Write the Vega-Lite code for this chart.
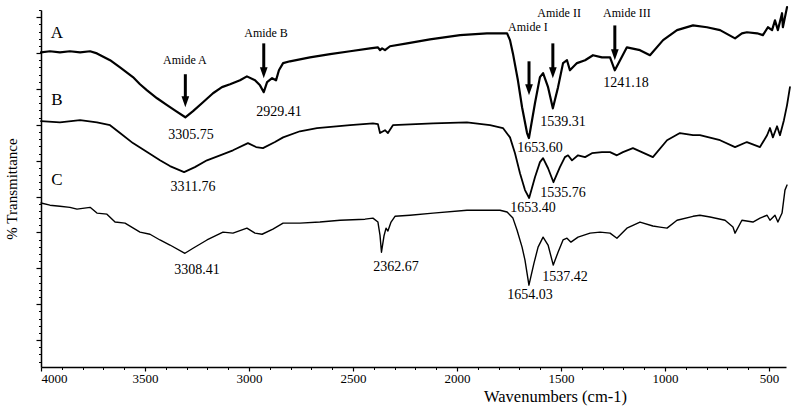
{
  "$schema": "https://vega.github.io/schema/vega-lite/v6.json",
  "width": 745,
  "height": 357,
  "autosize": {"type": "none"},
  "padding": {"left": 41, "top": 10, "right": 11, "bottom": 48},
  "background": "white",
  "config": {
    "view": {"stroke": null},
    "font": "Liberation Serif",
    "text": {"font": "Liberation Serif", "color": "black"},
    "axis": {"grid": false, "domainColor": "black", "tickColor": "black", "labelColor": "black", "titleColor": "black", "labelFont": "Liberation Serif", "titleFont": "Liberation Serif", "titleFontWeight": "normal"}
  },
  "datasets": {
    "spectra": [
      {"s":"A","w":4000,"t":80.2},{"s":"A","w":3957,"t":80.5},{"s":"A","w":3909,"t":80.2},{"s":"A","w":3861,"t":80.5},{"s":"A","w":3812,"t":80.2},{"s":"A","w":3764,"t":80.5},{"s":"A","w":3731,"t":79.9},{"s":"A","w":3668,"t":78.0},{"s":"A","w":3620,"t":76.0},{"s":"A","w":3558,"t":73.3},{"s":"A","w":3524,"t":71.3},{"s":"A","w":3490,"t":69.6},{"s":"A","w":3442,"t":67.4},{"s":"A","w":3394,"t":65.5},{"s":"A","w":3351,"t":63.8},{"s":"A","w":3306,"t":62.1},{"s":"A","w":3269,"t":63.8},{"s":"A","w":3221,"t":66.3},{"s":"A","w":3173,"t":68.8},{"s":"A","w":3130,"t":70.5},{"s":"A","w":3091,"t":71.3},{"s":"A","w":3043,"t":72.4},{"s":"A","w":3010,"t":73.5},{"s":"A","w":2971,"t":72.4},{"s":"A","w":2947,"t":71.0},{"s":"A","w":2929,"t":69.1},{"s":"A","w":2913,"t":71.9},{"s":"A","w":2889,"t":73.0},{"s":"A","w":2870,"t":72.4},{"s":"A","w":2856,"t":75.2},{"s":"A","w":2836,"t":77.2},{"s":"A","w":2803,"t":77.7},{"s":"A","w":2707,"t":78.8},{"s":"A","w":2610,"t":79.7},{"s":"A","w":2514,"t":80.5},{"s":"A","w":2418,"t":81.3},{"s":"A","w":2380,"t":81.6},{"s":"A","w":2370,"t":80.8},{"s":"A","w":2360,"t":81.3},{"s":"A","w":2346,"t":80.8},{"s":"A","w":2322,"t":81.9},{"s":"A","w":2240,"t":82.7},{"s":"A","w":2130,"t":83.8},{"s":"A","w":1985,"t":85.0},{"s":"A","w":1856,"t":85.5},{"s":"A","w":1793,"t":85.5},{"s":"A","w":1759,"t":85.5},{"s":"A","w":1745,"t":83.6},{"s":"A","w":1731,"t":79.9},{"s":"A","w":1707,"t":72.4},{"s":"A","w":1687,"t":64.9},{"s":"A","w":1663,"t":57.7},{"s":"A","w":1654,"t":56.3},{"s":"A","w":1625,"t":66.0},{"s":"A","w":1601,"t":73.3},{"s":"A","w":1586,"t":74.4},{"s":"A","w":1562,"t":70.5},{"s":"A","w":1539,"t":64.6},{"s":"A","w":1514,"t":70.5},{"s":"A","w":1490,"t":77.2},{"s":"A","w":1471,"t":78.0},{"s":"A","w":1457,"t":75.2},{"s":"A","w":1423,"t":77.2},{"s":"A","w":1384,"t":78.0},{"s":"A","w":1346,"t":79.4},{"s":"A","w":1303,"t":78.8},{"s":"A","w":1264,"t":78.8},{"s":"A","w":1241,"t":75.2},{"s":"A","w":1183,"t":81.6},{"s":"A","w":1120,"t":80.8},{"s":"A","w":1072,"t":79.4},{"s":"A","w":1009,"t":83.6},{"s":"A","w":942,"t":86.4},{"s":"A","w":865,"t":87.7},{"s":"A","w":798,"t":87.2},{"s":"A","w":735,"t":86.4},{"s":"A","w":663,"t":84.1},{"s":"A","w":630,"t":85.5},{"s":"A","w":606,"t":85.8},{"s":"A","w":557,"t":85.5},{"s":"A","w":529,"t":85.0},{"s":"A","w":505,"t":87.2},{"s":"A","w":485,"t":86.4},{"s":"A","w":471,"t":89.1},{"s":"A","w":457,"t":86.4},{"s":"A","w":437,"t":91.1},{"s":"A","w":433,"t":87.2},{"s":"A","w":413,"t":92.8},
      {"s":"B","w":4000,"t":61.0},{"s":"B","w":3909,"t":60.7},{"s":"B","w":3812,"t":61.3},{"s":"B","w":3731,"t":60.7},{"s":"B","w":3668,"t":59.9},{"s":"B","w":3620,"t":57.7},{"s":"B","w":3558,"t":54.9},{"s":"B","w":3490,"t":52.4},{"s":"B","w":3428,"t":50.1},{"s":"B","w":3380,"t":48.5},{"s":"B","w":3312,"t":46.8},{"s":"B","w":3260,"t":48.2},{"s":"B","w":3202,"t":50.1},{"s":"B","w":3139,"t":51.5},{"s":"B","w":3077,"t":52.9},{"s":"B","w":3005,"t":54.9},{"s":"B","w":2966,"t":53.8},{"s":"B","w":2933,"t":53.5},{"s":"B","w":2875,"t":55.2},{"s":"B","w":2836,"t":56.5},{"s":"B","w":2755,"t":58.2},{"s":"B","w":2673,"t":59.1},{"s":"B","w":2514,"t":59.9},{"s":"B","w":2404,"t":60.4},{"s":"B","w":2380,"t":60.2},{"s":"B","w":2370,"t":57.7},{"s":"B","w":2346,"t":58.5},{"s":"B","w":2332,"t":57.7},{"s":"B","w":2308,"t":59.9},{"s":"B","w":2115,"t":60.4},{"s":"B","w":1952,"t":60.7},{"s":"B","w":1841,"t":59.9},{"s":"B","w":1779,"t":59.1},{"s":"B","w":1745,"t":56.5},{"s":"B","w":1721,"t":52.1},{"s":"B","w":1697,"t":46.5},{"s":"B","w":1673,"t":41.8},{"s":"B","w":1653,"t":39.6},{"s":"B","w":1625,"t":45.4},{"s":"B","w":1601,"t":49.6},{"s":"B","w":1586,"t":50.7},{"s":"B","w":1562,"t":47.9},{"s":"B","w":1536,"t":44.0},{"s":"B","w":1505,"t":48.2},{"s":"B","w":1481,"t":51.0},{"s":"B","w":1466,"t":51.5},{"s":"B","w":1447,"t":50.1},{"s":"B","w":1418,"t":51.5},{"s":"B","w":1384,"t":51.0},{"s":"B","w":1351,"t":52.1},{"s":"B","w":1303,"t":52.4},{"s":"B","w":1264,"t":52.4},{"s":"B","w":1231,"t":51.5},{"s":"B","w":1202,"t":52.4},{"s":"B","w":1154,"t":53.5},{"s":"B","w":1058,"t":51.0},{"s":"B","w":990,"t":55.7},{"s":"B","w":928,"t":57.7},{"s":"B","w":865,"t":57.1},{"s":"B","w":832,"t":57.1},{"s":"B","w":735,"t":55.7},{"s":"B","w":663,"t":53.8},{"s":"B","w":606,"t":55.2},{"s":"B","w":543,"t":53.8},{"s":"B","w":509,"t":57.1},{"s":"B","w":495,"t":59.1},{"s":"B","w":481,"t":56.5},{"s":"B","w":461,"t":59.6},{"s":"B","w":447,"t":57.1},{"s":"B","w":428,"t":61.3},{"s":"B","w":413,"t":65.5},{"s":"B","w":399,"t":70.5},
      {"s":"C","w":4000,"t":38.2},{"s":"C","w":3957,"t":37.6},{"s":"C","w":3909,"t":37.3},{"s":"C","w":3861,"t":37.0},{"s":"C","w":3827,"t":36.5},{"s":"C","w":3764,"t":37.0},{"s":"C","w":3731,"t":35.4},{"s":"C","w":3683,"t":35.1},{"s":"C","w":3644,"t":32.9},{"s":"C","w":3596,"t":32.6},{"s":"C","w":3524,"t":30.1},{"s":"C","w":3476,"t":29.5},{"s":"C","w":3428,"t":27.9},{"s":"C","w":3380,"t":26.5},{"s":"C","w":3308,"t":24.2},{"s":"C","w":3269,"t":25.6},{"s":"C","w":3202,"t":27.9},{"s":"C","w":3125,"t":30.1},{"s":"C","w":3077,"t":29.8},{"s":"C","w":3010,"t":31.2},{"s":"C","w":2971,"t":29.8},{"s":"C","w":2937,"t":29.5},{"s":"C","w":2885,"t":30.9},{"s":"C","w":2836,"t":32.6},{"s":"C","w":2755,"t":32.6},{"s":"C","w":2659,"t":32.9},{"s":"C","w":2562,"t":33.4},{"s":"C","w":2442,"t":33.7},{"s":"C","w":2404,"t":34.0},{"s":"C","w":2380,"t":32.9},{"s":"C","w":2370,"t":29.2},{"s":"C","w":2363,"t":24.5},{"s":"C","w":2351,"t":29.0},{"s":"C","w":2341,"t":31.2},{"s":"C","w":2332,"t":30.4},{"s":"C","w":2317,"t":32.9},{"s":"C","w":2298,"t":34.5},{"s":"C","w":2226,"t":34.8},{"s":"C","w":2115,"t":35.4},{"s":"C","w":1952,"t":36.2},{"s":"C","w":1793,"t":36.2},{"s":"C","w":1759,"t":35.7},{"s":"C","w":1731,"t":34.0},{"s":"C","w":1711,"t":30.6},{"s":"C","w":1687,"t":25.9},{"s":"C","w":1673,"t":22.3},{"s":"C","w":1654,"t":15.3},{"s":"C","w":1630,"t":21.4},{"s":"C","w":1610,"t":25.9},{"s":"C","w":1586,"t":28.7},{"s":"C","w":1562,"t":26.5},{"s":"C","w":1537,"t":20.9},{"s":"C","w":1514,"t":24.5},{"s":"C","w":1490,"t":27.9},{"s":"C","w":1471,"t":28.4},{"s":"C","w":1452,"t":27.3},{"s":"C","w":1418,"t":28.7},{"s":"C","w":1360,"t":29.8},{"s":"C","w":1312,"t":30.1},{"s":"C","w":1264,"t":29.8},{"s":"C","w":1231,"t":28.4},{"s":"C","w":1183,"t":31.2},{"s":"C","w":1120,"t":32.9},{"s":"C","w":1058,"t":31.8},{"s":"C","w":1024,"t":31.5},{"s":"C","w":990,"t":31.2},{"s":"C","w":942,"t":33.4},{"s":"C","w":865,"t":34.5},{"s":"C","w":832,"t":34.8},{"s":"C","w":783,"t":34.3},{"s":"C","w":711,"t":33.4},{"s":"C","w":673,"t":31.5},{"s":"C","w":663,"t":29.8},{"s":"C","w":630,"t":33.4},{"s":"C","w":577,"t":32.9},{"s":"C","w":543,"t":34.0},{"s":"C","w":509,"t":34.8},{"s":"C","w":495,"t":33.4},{"s":"C","w":471,"t":34.8},{"s":"C","w":457,"t":32.9},{"s":"C","w":437,"t":35.4},{"s":"C","w":423,"t":41.8},{"s":"C","w":413,"t":43.2}
    ],
    "arrows": [
      {"band":"Amide A","w":3306,"top":74.1,"bottom":67.1,"head":66.4},
      {"band":"Amide B","w":2929,"top":82.7,"bottom":75.2,"head":74.5},
      {"band":"Amide I","w":1653.6,"top":77.7,"bottom":70.5,"head":69.8},
      {"band":"Amide II","w":1539,"top":82.7,"bottom":75.2,"head":74.5},
      {"band":"Amide III","w":1241,"top":87.7,"bottom":80.2,"head":79.5}
    ],
    "letters": [
      {"label":"A","w":3923,"t":85.5},
      {"label":"B","w":3923,"t":66.9},
      {"label":"C","w":3923,"t":44.6}
    ],
    "amides": [
      {"label":"Amide A","w":3308,"t":78.0},
      {"label":"Amide B","w":2918,"t":85.5},
      {"label":"Amide I","w":1659,"t":87.2},
      {"label":"Amide II","w":1509,"t":91.1},
      {"label":"Amide III","w":1183,"t":91.1}
    ],
    "peaks": [
      {"label":"3305.75","w":3279,"t":57.1},
      {"label":"2929.41","w":2856,"t":63.5},
      {"label":"3311.76","w":3269,"t":42.6},
      {"label":"3308.41","w":3250,"t":19.5},
      {"label":"2362.67","w":2293,"t":20.3},
      {"label":"1653.60","w":1601,"t":53.5},
      {"label":"1539.31","w":1490,"t":60.7},
      {"label":"1241.18","w":1187,"t":71.6},
      {"label":"1535.76","w":1490,"t":40.9},
      {"label":"1653.40","w":1634,"t":36.8},
      {"label":"1537.42","w":1481,"t":17.5},
      {"label":"1654.03","w":1649,"t":12.5}
    ]
  },
  "layer": [
    {
      "data": {"name": "spectra"},
      "mark": {"type": "line", "color": "black", "strokeJoin": "round", "strokeCap": "round"},
      "encoding": {
        "x": {"field": "w", "type": "quantitative", "scale": {"domain": [418, 4000], "reverse": true, "nice": false, "zero": false},
          "axis": {"orient": "bottom", "values": [4000, 3500, 3000, 2500, 2000, 1500, 1000, 500], "format": "d", "title": "Wavenumbers (cm-1)", "titleFont": "Liberation Serif", "titleFontSize": 16.5, "titleX": 514, "titleY": 29, "titleBaseline": "middle", "titleAlign": "center", "labelFont": "Liberation Serif", "labelFontSize": 13, "labelFlush": true, "labelPadding": 1, "tickSize": 4, "domainWidth": 1.5, "tickWidth": 1.2}},
        "y": {"field": "t", "type": "quantitative", "scale": {"domain": [-7.5, 92], "nice": false, "zero": false},
          "axis": {"orient": "left", "values": [0, 10, 20, 30, 40, 50, 60, 70, 80, 90], "labels": false, "title": "% Transmittance", "titleFont": "Liberation Serif", "titleFontSize": 15, "titlePadding": 16, "tickSize": 5, "domainWidth": 1.5, "tickWidth": 1.2}},
        "detail": {"field": "s"},
        "strokeWidth": {"field": "s", "type": "nominal", "scale": {"domain": ["A", "B", "C"], "range": [2.2, 1.4, 1.6]}, "legend": null}
      }
    },
    {
      "data": {"name": "arrows"},
      "mark": {"type": "rule", "color": "black", "strokeWidth": 3},
      "encoding": {
        "x": {"field": "w", "type": "quantitative", "scale": {"domain": [418, 4000], "reverse": true, "nice": false, "zero": false},
          "axis": {"orient": "bottom", "values": [3900, 3800, 3700, 3600, 3400, 3300, 3200, 3100, 2900, 2800, 2700, 2600, 2400, 2300, 2200, 2100, 1900, 1800, 1700, 1600, 1400, 1300, 1200, 1100, 900, 800, 700, 600], "labels": false, "title": null, "domain": false, "tickSize": 2.5, "tickWidth": 1}},
        "y": {"field": "top", "type": "quantitative", "scale": {"domain": [-7.5, 92], "nice": false, "zero": false},
          "axis": {"orient": "left", "values": [-6, -4, -2, 2, 4, 6, 8, 12, 14, 16, 18, 22, 24, 26, 28, 32, 34, 36, 38, 42, 44, 46, 48, 52, 54, 56, 58, 62, 64, 66, 68, 72, 74, 76, 78, 82, 84, 86, 88, 92], "labels": false, "title": null, "domain": false, "tickSize": 2.5, "tickWidth": 1}},
        "y2": {"field": "bottom"}
      }
    },
    {
      "data": {"name": "arrows"},
      "mark": {"type": "point", "shape": "M-0.7,-1L0.7,-1L0,1Z", "filled": true, "color": "black", "opacity": 1, "size": 121},
      "encoding": {
        "x": {"field": "w", "type": "quantitative", "scale": {"domain": [418, 4000], "reverse": true, "nice": false, "zero": false}, "axis": null},
        "y": {"field": "head", "type": "quantitative", "scale": {"domain": [-7.5, 92], "nice": false, "zero": false}, "axis": null}
      }
    },
    {
      "data": {"name": "letters"},
      "mark": {"type": "text", "fontSize": 17, "align": "center", "baseline": "middle", "font": "Liberation Serif"},
      "encoding": {
        "x": {"field": "w", "type": "quantitative", "scale": {"domain": [418, 4000], "reverse": true, "nice": false, "zero": false}, "axis": null},
        "y": {"field": "t", "type": "quantitative", "scale": {"domain": [-7.5, 92], "nice": false, "zero": false}, "axis": null},
        "text": {"field": "label"}
      }
    },
    {
      "data": {"name": "amides"},
      "mark": {"type": "text", "fontSize": 12, "align": "center", "baseline": "middle", "font": "Liberation Serif"},
      "encoding": {
        "x": {"field": "w", "type": "quantitative", "scale": {"domain": [418, 4000], "reverse": true, "nice": false, "zero": false}, "axis": null},
        "y": {"field": "t", "type": "quantitative", "scale": {"domain": [-7.5, 92], "nice": false, "zero": false}, "axis": null},
        "text": {"field": "label"}
      }
    },
    {
      "data": {"name": "peaks"},
      "mark": {"type": "text", "fontSize": 14, "align": "center", "baseline": "middle", "font": "Liberation Serif"},
      "encoding": {
        "x": {"field": "w", "type": "quantitative", "scale": {"domain": [418, 4000], "reverse": true, "nice": false, "zero": false}, "axis": null},
        "y": {"field": "t", "type": "quantitative", "scale": {"domain": [-7.5, 92], "nice": false, "zero": false}, "axis": null},
        "text": {"field": "label"}
      }
    }
  ],
  "resolve": {"axis": {"x": "independent", "y": "independent"}}
}
